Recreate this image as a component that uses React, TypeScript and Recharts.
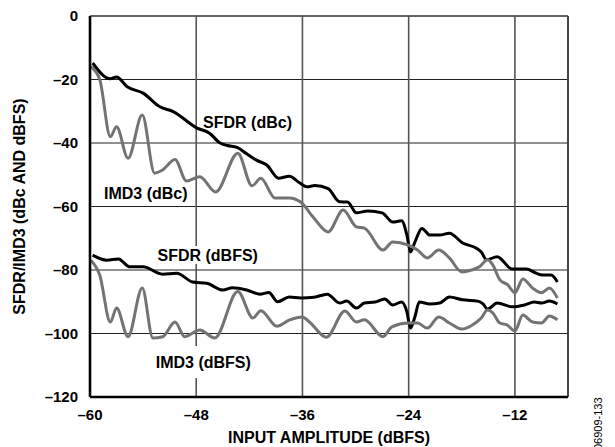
import {
  LineChart,
  Line,
  XAxis,
  YAxis,
  CartesianGrid,
  ReferenceLine,
  ReferenceDot,
} from "recharts";

// input amplitude (dBFS) / level (dB) pairs
const sfdrDbcX = [-59.7, -57.7, -57.0, -55.8, -54.0, -52.1, -50.6, -47.9, -46.5, -45.3, -44.5, -43.4, -42.3, -41.2, -40.0, -38.7, -37.5, -36.3, -35.5, -34.6, -33.1, -31.8, -30.9, -29.9, -28.6, -27.0, -25.8, -24.8, -24.2, -23.8, -23.3, -22.5, -21.6, -20.5, -19.4, -17.9, -16.3, -15.8, -15.2, -14.0, -12.3, -10.7, -9.6, -8.9, -7.9, -7.2];
const sfdrDbcY = [-14.8, -19.8, -19.2, -22.3, -24.3, -28.6, -30.1, -35.3, -36.9, -40.0, -40.8, -41.4, -43.4, -45.4, -47.0, -51.1, -50.5, -52.6, -53.8, -53.4, -54.4, -58.5, -58.6, -62.0, -61.4, -62.0, -64.9, -64.5, -69.0, -74.3, -71.2, -66.9, -69.0, -69.0, -68.4, -71.5, -73.2, -74.3, -76.8, -75.8, -79.7, -79.7, -81.0, -81.6, -81.6, -83.8];

const imd3DbcX = [-59.9, -58.9, -57.7, -57.0, -55.7, -54.1, -52.7, -51.8, -50.4, -49.1, -47.6, -45.8, -43.3, -41.7, -40.7, -39.1, -37.5, -36.2, -34.8, -33.1, -31.4, -29.9, -29.0, -26.9, -25.8, -24.1, -23.0, -21.9, -20.6, -19.4, -18.0, -16.9, -16.0, -15.1, -14.5, -13.7, -12.8, -12.0, -11.1, -10.0, -9.0, -8.1, -7.2];
const imd3DbcY = [-16.0, -20.0, -38.0, -34.9, -44.8, -31.2, -49.5, -48.5, -45.2, -52.0, -50.6, -55.4, -43.2, -53.5, -51.1, -57.3, -57.3, -58.6, -63.3, -68.0, -61.1, -66.4, -66.8, -73.7, -71.2, -72.1, -73.7, -76.2, -73.7, -76.2, -80.6, -80.0, -79.0, -76.8, -78.4, -83.1, -84.7, -87.2, -82.8, -85.7, -87.2, -85.7, -88.8];

const sfdrDbfsX = [-59.7, -58.1, -56.8, -55.5, -54.0, -51.8, -50.2, -48.4, -46.8, -45.0, -43.9, -42.3, -40.8, -39.8, -38.8, -37.5, -36.2, -34.7, -33.2, -31.8, -31.0, -29.9, -29.0, -27.8, -26.7, -25.8, -24.8, -24.2, -23.8, -23.3, -22.8, -21.6, -20.5, -19.4, -17.9, -16.2, -15.6, -15.1, -14.0, -12.3, -10.9, -9.8, -9.0, -8.1, -7.2];
const sfdrDbfsY = [-75.3, -76.9, -76.5, -79.0, -79.0, -81.3, -81.0, -83.8, -84.2, -86.3, -85.6, -86.3, -87.6, -87.1, -90.0, -88.5, -88.8, -88.6, -87.6, -90.4, -89.8, -92.0, -90.4, -90.1, -89.1, -91.0, -90.1, -93.2, -98.3, -94.8, -90.1, -90.7, -90.4, -88.5, -89.4, -89.8, -90.7, -92.3, -90.4, -91.6, -91.0, -90.1, -90.4, -89.8, -90.7];

const imd3DbfsX = [-59.9, -58.9, -57.7, -57.0, -55.7, -54.1, -52.9, -51.8, -50.4, -49.3, -47.6, -45.9, -43.3, -41.6, -40.7, -38.9, -37.5, -36.0, -35.2, -33.3, -31.2, -29.9, -29.0, -26.9, -25.9, -24.1, -23.0, -21.9, -20.6, -19.4, -18.0, -16.8, -15.8, -15.1, -14.5, -13.7, -12.9, -12.0, -11.1, -10.0, -9.0, -8.1, -7.2];
const imd3DbfsY = [-76.9, -81.6, -96.4, -92.0, -101.0, -85.7, -101.4, -101.0, -96.4, -101.0, -98.9, -101.4, -86.8, -95.1, -92.8, -97.7, -95.8, -94.8, -96.4, -101.2, -92.9, -96.4, -95.7, -101.0, -97.9, -96.7, -96.7, -98.3, -94.8, -96.7, -98.6, -97.3, -95.1, -92.6, -93.5, -96.7, -97.3, -99.2, -94.2, -96.4, -96.7, -94.5, -95.7];

const xTicks = [-60, -48, -36, -24, -12];
const yTicks = [0, -20, -40, -60, -80, -100, -120];

// inline curve labels (h = height of the white box behind the text)
const curveLabels = [
  { text: "SFDR (dBc)", x: -42.2, y: -33.4, h: 0 },
  { text: "IMD3 (dBc)", x: -53.7, y: -55.7, h: 0 },
  { text: "SFDR (dBFS)", x: -46.7, y: -75.3, h: 18 },
  { text: "IMD3 (dBFS)", x: -47.2, y: -109.0, h: 32 },
];

const zip = (xs: number[], ys: number[]) => xs.map((x, i) => ({ x, y: ys[i] }));

const FONT = "'Liberation Sans', Arial, Helvetica, sans-serif";
const dash = (v: number) => (v < 0 ? `\u2013${Math.abs(v)}` : `${v}`);

const series = [
  { name: "SFDR (dBc)", data: zip(sfdrDbcX, sfdrDbcY), color: "#000000" },
  { name: "SFDR (dBFS)", data: zip(sfdrDbfsX, sfdrDbfsY), color: "#000000" },
  { name: "IMD3 (dBc)", data: zip(imd3DbcX, imd3DbcY), color: "#737373" },
  { name: "IMD3 (dBFS)", data: zip(imd3DbfsX, imd3DbfsY), color: "#737373" },
];

const tickStyle = { fontFamily: FONT, fontSize: 15, fontWeight: 700, fill: "#000" };

function boxLabel(text: string, h: number) {
  return (props: any) => {
    const w = text.length * 9;
    return (
      <g>
        {h > 0 && (
          <rect x={props.cx - w / 2} y={props.cy - h / 2} width={w} height={h} fill="#fff" />
        )}
        <text
          x={props.cx}
          y={props.cy}
          dy="0.36em"
          textAnchor="middle"
          fontFamily={FONT}
          fontSize={16}
          fontWeight={700}
          fill="#000"
        >
          {text}
        </text>
      </g>
    );
  };
}

export default function App() {
  return (
    <div style={{ position: "absolute", left: 0, top: 0, background: "#fff" }}>
      <LineChart width={615} height={447} margin={{ top: 16, right: 47, bottom: 0, left: 0 }}>
        <CartesianGrid vertical={false} stroke="#222" strokeWidth={1.2} />
        <CartesianGrid horizontal={false} stroke="#555" strokeWidth={1.6} />
        <XAxis
          type="number"
          dataKey="x"
          domain={[-60, -6]}
          ticks={xTicks}
          allowDataOverflow
          height={50}
          tickLine={false}
          tickSize={0}
          tickMargin={12}
          tickFormatter={dash}
          tick={tickStyle}
          axisLine={{ stroke: "#000", strokeWidth: 2.6 }}
          label={{
            content: (p: any) => {
              const vb = p.viewBox;
              return (
                <g>
                  <text
                    x={vb.x + vb.width / 2}
                    y={vb.y + 40}
                    dy="0.36em"
                    textAnchor="middle"
                    fontFamily={FONT}
                    fontSize={16}
                    fontWeight={700}
                    fill="#000"
                  >
                    INPUT AMPLITUDE (dBFS)
                  </text>
                  <text
                    x={602}
                    y={450}
                    transform="rotate(-90 602 450)"
                    textAnchor="start"
                    fontFamily={FONT}
                    fontSize={11}
                    fill="#000"
                  >
                    06909-133
                  </text>
                </g>
              );
            },
          }}
        />
        <YAxis
          type="number"
          domain={[-120, 0]}
          ticks={yTicks}
          width={90}
          tickLine={false}
          tickSize={0}
          tickMargin={12}
          tickFormatter={dash}
          tick={tickStyle}
          axisLine={{ stroke: "#000", strokeWidth: 2.6 }}
          label={{
            content: (p: any) => {
              const vb = p.viewBox;
              const cx = vb.x + 19;
              const cy = vb.y + vb.height / 2;
              return (
                <text
                  x={cx}
                  y={cy}
                  dy="0.36em"
                  transform={`rotate(-90 ${cx} ${cy})`}
                  textAnchor="middle"
                  fontFamily={FONT}
                  fontSize={16}
                  fontWeight={700}
                  fill="#000"
                >
                  SFDR/IMD3 (dBc AND dBFS)
                </text>
              );
            },
          }}
        />
        <ReferenceLine y={0} stroke="#555" strokeWidth={1.6} ifOverflow="visible" />
        <ReferenceLine x={-6} stroke="#444" strokeWidth={2} ifOverflow="visible" />
        {curveLabels.map((l) => (
          <ReferenceDot
            key={l.text}
            x={l.x}
            y={l.y}
            r={0}
            ifOverflow="visible"
            shape={boxLabel(l.text, l.h)}
          />
        ))}
        {series.map((s) => (
          <Line
            key={s.name}
            data={s.data}
            dataKey="y"
            name={s.name}
            type="monotone"
            stroke={s.color}
            strokeWidth={3}
            dot={false}
            activeDot={false}
            isAnimationActive={false}
          />
        ))}
      </LineChart>
    </div>
  );
}
